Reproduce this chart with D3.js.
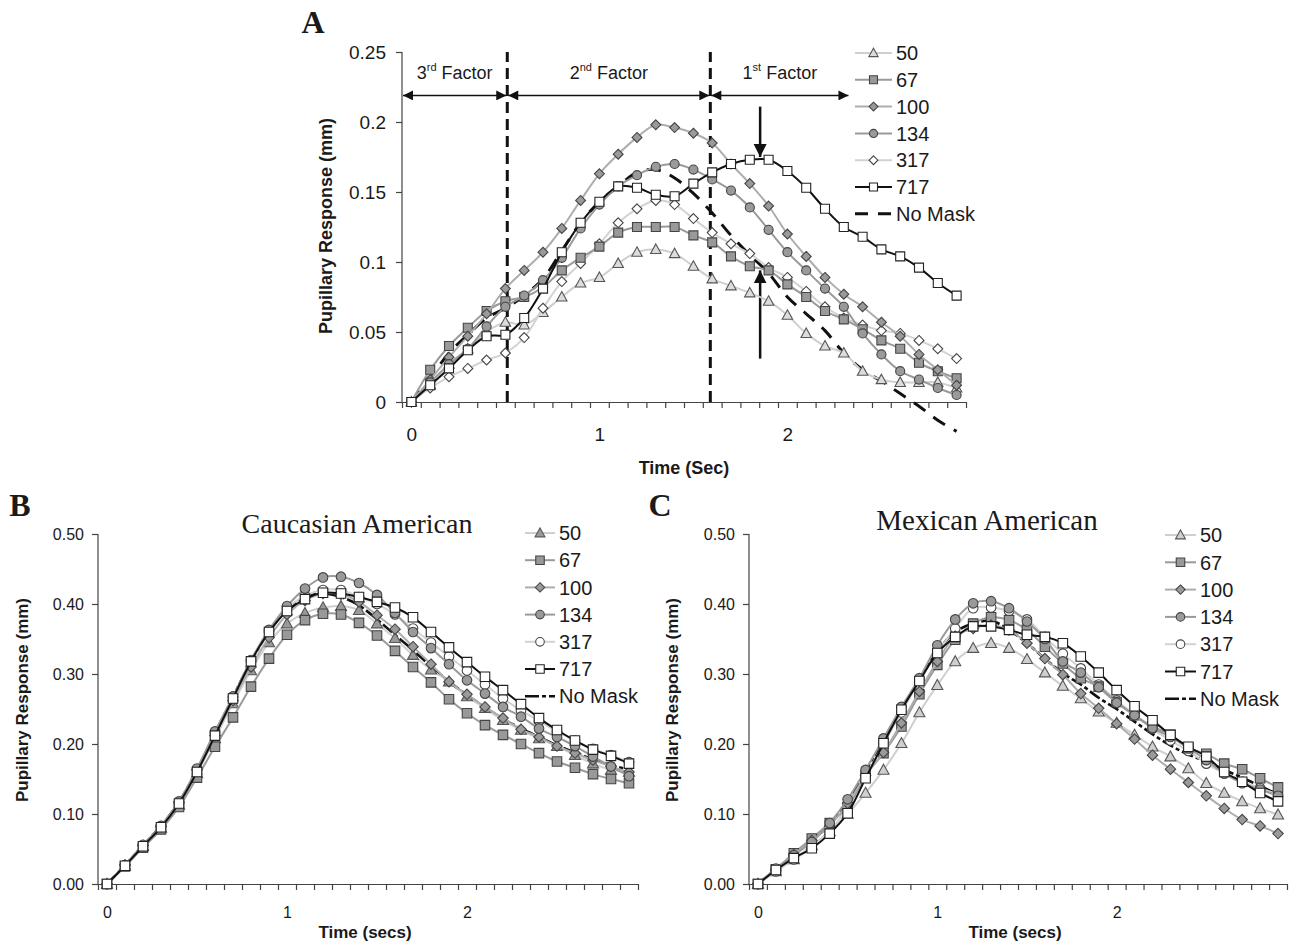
<!DOCTYPE html>
<html>
<head>
<meta charset="utf-8">
<title>Pupillary Response</title>
<script src="https://cdn.jsdelivr.net/npm/d3@7"></script>
<style>
  body { margin: 0; background: #fff; }
  text { font-family: "Liberation Sans", Arial, sans-serif; fill: #1a1a1a; }
  .serif { font-family: "Liberation Serif", "Times New Roman", serif; }
  .domain, .tick line { stroke: #444; stroke-width: 1.2; }
</style>
</head>
<body>
<div id="chart"></div>
<script>

// time points (sec), one every 0.1 s
var times = [0, 0.1, 0.2, 0.3, 0.4, 0.5, 0.6, 0.7, 0.8, 0.9, 1.0, 1.1, 1.2, 1.3, 1.4,
             1.5, 1.6, 1.7, 1.8, 1.9, 2.0, 2.1, 2.2, 2.3, 2.4, 2.5, 2.6, 2.7, 2.8, 2.9];
var seriesNames = ["50", "67", "100", "134", "317", "717", "No Mask"];
var timeLabels = [0, 1, 2];

// panel A
var a50  = [0, 0.012, 0.027, 0.038, 0.05, 0.057, 0.055, 0.064, 0.075, 0.085, 0.089, 0.099, 0.107, 0.109, 0.106, 0.097, 0.088, 0.083, 0.078, 0.072, 0.062, 0.049, 0.04, 0.035, 0.022, 0.016, 0.014, 0.014, 0.014, 0.01];
var a67  = [0, 0.023, 0.04, 0.053, 0.065, 0.072, 0.075, 0.082, 0.094, 0.103, 0.111, 0.121, 0.125, 0.125, 0.125, 0.119, 0.114, 0.104, 0.097, 0.094, 0.084, 0.075, 0.065, 0.059, 0.052, 0.044, 0.038, 0.028, 0.022, 0.017];
var a100 = [0, 0.016, 0.032, 0.047, 0.063, 0.081, 0.094, 0.107, 0.124, 0.144, 0.163, 0.177, 0.189, 0.198, 0.196, 0.192, 0.185, 0.170, 0.156, 0.140, 0.120, 0.104, 0.089, 0.077, 0.068, 0.057, 0.047, 0.034, 0.023, 0.012];
var a134 = [0, 0.014, 0.027, 0.038, 0.054, 0.068, 0.076, 0.087, 0.103, 0.124, 0.141, 0.154, 0.162, 0.168, 0.170, 0.166, 0.159, 0.151, 0.139, 0.123, 0.107, 0.094, 0.081, 0.068, 0.049, 0.034, 0.022, 0.016, 0.010, 0.005];
var a317 = [0, 0.010, 0.018, 0.024, 0.030, 0.035, 0.046, 0.067, 0.086, 0.099, 0.113, 0.128, 0.138, 0.144, 0.141, 0.131, 0.121, 0.113, 0.106, 0.096, 0.089, 0.079, 0.068, 0.060, 0.055, 0.051, 0.049, 0.044, 0.038, 0.031];
var a717 = [0, 0.012, 0.024, 0.037, 0.047, 0.048, 0.060, 0.081, 0.107, 0.128, 0.143, 0.154, 0.153, 0.148, 0.147, 0.156, 0.164, 0.170, 0.173, 0.173, 0.165, 0.153, 0.138, 0.125, 0.118, 0.109, 0.104, 0.096, 0.085, 0.076];
var aNoMask = [0, 0.017, 0.035, 0.048, 0.060, 0.067, 0.076, 0.088, 0.108, 0.128, 0.143, 0.154, 0.164, 0.166, 0.160, 0.149, 0.135, 0.119, 0.105, 0.092, 0.075, 0.063, 0.051, 0.035, 0.023, 0.015, 0.006, -0.003, -0.013, -0.021];

// panel B - Caucasian American
var b50  = [0, 0.026, 0.054, 0.08, 0.113, 0.158, 0.208, 0.258, 0.305, 0.345, 0.372, 0.387, 0.395, 0.397, 0.391, 0.372, 0.351, 0.327, 0.306, 0.289, 0.268, 0.251, 0.234, 0.22, 0.208, 0.197, 0.184, 0.172, 0.163, 0.16];
var b67  = [0, 0.025, 0.052, 0.078, 0.11, 0.152, 0.196, 0.238, 0.282, 0.322, 0.356, 0.377, 0.386, 0.385, 0.373, 0.355, 0.333, 0.310, 0.288, 0.264, 0.244, 0.227, 0.213, 0.2, 0.187, 0.175, 0.166, 0.157, 0.15, 0.144];
var b100 = [0, 0.027, 0.055, 0.082, 0.116, 0.163, 0.212, 0.262, 0.31, 0.352, 0.385, 0.405, 0.415, 0.414, 0.403, 0.384, 0.364, 0.339, 0.314, 0.289, 0.271, 0.253, 0.237, 0.221, 0.21, 0.197, 0.187, 0.177, 0.168, 0.16];
var b134 = [0, 0.027, 0.056, 0.083, 0.118, 0.165, 0.218, 0.268, 0.32, 0.363, 0.397, 0.422, 0.438, 0.439, 0.430, 0.413, 0.387, 0.360, 0.337, 0.314, 0.291, 0.272, 0.253, 0.239, 0.222, 0.21, 0.197, 0.182, 0.168, 0.154];
var b317 = [0, 0.027, 0.055, 0.082, 0.117, 0.163, 0.215, 0.266, 0.318, 0.36, 0.393, 0.412, 0.42, 0.42, 0.41, 0.40, 0.385, 0.365, 0.345, 0.325, 0.305, 0.285, 0.265, 0.248, 0.233, 0.218, 0.205, 0.193, 0.184, 0.174];
var b717 = [0, 0.026, 0.054, 0.081, 0.115, 0.16, 0.212, 0.265, 0.318, 0.36, 0.39, 0.407, 0.416, 0.415, 0.410, 0.403, 0.395, 0.381, 0.360, 0.338, 0.317, 0.296, 0.277, 0.257, 0.237, 0.22, 0.205, 0.192, 0.183, 0.172];
var bNoMask = [0, 0.027, 0.055, 0.083, 0.117, 0.163, 0.214, 0.267, 0.318, 0.36, 0.392, 0.41, 0.415, 0.41, 0.398, 0.378, 0.356, 0.334, 0.311, 0.289, 0.27, 0.252, 0.236, 0.222, 0.21, 0.198, 0.188, 0.178, 0.17, 0.163];

// panel C - Mexican American
var c50  = [0, 0.018, 0.035, 0.055, 0.075, 0.1, 0.13, 0.163, 0.201, 0.245, 0.284, 0.318, 0.337, 0.344, 0.337, 0.321, 0.302, 0.283, 0.265, 0.246, 0.23, 0.213, 0.196, 0.182, 0.165, 0.144, 0.13, 0.118, 0.108, 0.099];
var c67  = [0, 0.021, 0.044, 0.065, 0.087, 0.11, 0.155, 0.187, 0.225, 0.271, 0.313, 0.349, 0.372, 0.381, 0.377, 0.363, 0.339, 0.315, 0.294, 0.282, 0.26, 0.241, 0.225, 0.213, 0.194, 0.186, 0.172, 0.164, 0.151, 0.138];
var c100 = [0, 0.02, 0.042, 0.062, 0.083, 0.115, 0.155, 0.188, 0.23, 0.275, 0.318, 0.354, 0.365, 0.37, 0.363, 0.344, 0.322, 0.299, 0.272, 0.251, 0.229, 0.207, 0.184, 0.164, 0.145, 0.126, 0.108, 0.092, 0.083, 0.072];
var c134 = [0, 0.022, 0.041, 0.06, 0.087, 0.121, 0.163, 0.208, 0.253, 0.294, 0.341, 0.378, 0.401, 0.404, 0.394, 0.375, 0.35, 0.318, 0.302, 0.281, 0.259, 0.241, 0.223, 0.21, 0.194, 0.177, 0.158, 0.144, 0.135, 0.126];
var c317 = [0, 0.018, 0.035, 0.052, 0.075, 0.11, 0.155, 0.2, 0.245, 0.29, 0.33, 0.365, 0.394, 0.395, 0.39, 0.378, 0.353, 0.329, 0.308, 0.285, 0.262, 0.242, 0.222, 0.205, 0.19, 0.172, 0.158, 0.146, 0.137, 0.128];
var c717 = [0, 0.02, 0.037, 0.051, 0.072, 0.101, 0.151, 0.201, 0.249, 0.29, 0.33, 0.353, 0.368, 0.368, 0.363, 0.356, 0.353, 0.344, 0.325, 0.302, 0.277, 0.254, 0.234, 0.213, 0.196, 0.182, 0.16, 0.146, 0.13, 0.118];
var cNoMask = [0, 0.021, 0.042, 0.062, 0.085, 0.118, 0.16, 0.205, 0.25, 0.292, 0.332, 0.36, 0.372, 0.376, 0.363, 0.344, 0.322, 0.301, 0.285, 0.266, 0.25, 0.232, 0.214, 0.198, 0.185, 0.175, 0.163, 0.152, 0.14, 0.128];

// panel A annotations
var factorBounds = [-0.05, 0.51, 1.59, 2.33];
var factorLabels = [["3", "rd"], ["2", "nd"], ["1", "st"]];

var svg = d3.select("#chart").append("svg")
    .attr("width", 1292).attr("height", 944);

var defs = svg.append("defs");
defs.append("marker").attr("id", "head")
    .attr("viewBox", "0 0 10 10").attr("refX", 10).attr("refY", 5)
    .attr("markerWidth", 11).attr("markerHeight", 10)
    .attr("markerUnits", "userSpaceOnUse")
    .attr("orient", "auto-start-reverse")
  .append("path").attr("d", "M0,0 L10,5 L0,10 z").attr("fill", "#111");
defs.append("marker").attr("id", "bighead")
    .attr("viewBox", "0 0 10 10").attr("refX", 10).attr("refY", 5)
    .attr("markerWidth", 13).attr("markerHeight", 14)
    .attr("markerUnits", "userSpaceOnUse")
    .attr("orient", "auto")
  .append("path").attr("d", "M0,0 L10,5 L0,10 z").attr("fill", "#111");

function markerPath(shape, s) {
  if (shape == "triangle") return "M0," + (-s * 0.6) + "L" + (s * 0.58) + "," + (s * 0.45) + "L" + (-s * 0.58) + "," + (s * 0.45) + "Z";
  if (shape == "square") return "M" + (-s / 2) + "," + (-s / 2) + "h" + s + "v" + s + "h" + (-s) + "Z";
  if (shape == "diamond") return "M0," + (-s * 0.55) + "L" + (s * 0.55) + ",0L0," + (s * 0.55) + "L" + (-s * 0.55) + ",0Z";
  if (shape == "circle") return d3.symbol(d3.symbolCircle, s * s * 0.8)();
  return "";
}

function drawPanel(p) {
  var g = svg.append("g");
  var x = d3.scaleLinear().domain([-0.05, 2.95]).range([p.left, p.right]);
  var y = d3.scaleLinear().domain(p.yDomain).range([p.bottom, p.top]);

  // y axis
  g.append("g")
    .attr("transform", "translate(" + p.left + ",0)")
    .call(d3.axisLeft(y).tickValues(p.yTicks).tickSize(6).tickPadding(p.yPad).tickFormat(p.yFormat))
    .call(function(a) {
      a.select(".domain").attr("d", "M0," + p.top + "V" + p.bottom);
      a.selectAll("text").style("font-size", p.tickFont + "px");
    });

  // x axis: minor ticks between categories, labels at whole seconds
  var bounds = times.map(function(t) { return t - 0.05; }).concat([2.95]);
  g.append("g")
    .attr("transform", "translate(0," + p.bottom + ")")
    .call(d3.axisBottom(x).tickValues(bounds).tickSize(6).tickSizeOuter(0).tickFormat(""));
  g.append("g")
    .attr("transform", "translate(0," + p.bottom + ")")
    .call(d3.axisBottom(x).tickValues(timeLabels).tickSize(0).tickPadding(p.xPad).tickFormat(d3.format("d")))
    .call(function(a) {
      a.select(".domain").remove();
      a.selectAll("text").style("font-size", p.tickFont + "px");
    });

  // axis titles
  g.append("text")
    .attr("transform", "translate(" + p.yTitleX + "," + p.yTitleY + ") rotate(-90)")
    .attr("text-anchor", "middle").style("font-weight", "bold").style("font-size", p.titleFont + "px")
    .text("Pupillary Response (mm)");
  g.append("text")
    .attr("x", p.xTitleX).attr("y", p.xTitleY)
    .attr("text-anchor", "middle").style("font-weight", "bold").style("font-size", p.titleFont + "px")
    .text(p.xTitle);

  // panel letter and title
  g.append("text").attr("class", "serif")
    .attr("x", p.letterX).attr("y", p.letterY).attr("text-anchor", "middle")
    .style("font-weight", "bold").style("font-size", "32px")
    .text(p.letter);
  if (p.title) {
    g.append("text").attr("class", "serif")
      .attr("x", p.titleX).attr("y", p.titleY).attr("text-anchor", "middle")
      .style("font-size", p.titleSize + "px")
      .text(p.title);
  }

  if (p.extra) p.extra(g, x, y);

  var line = d3.line()
    .x(function(d, i) { return x(times[i]); })
    .y(function(d) { return y(d); })
    .curve(d3.curveCatmullRom.alpha(0.5));

  p.series.forEach(function(s) {
    g.append("path")
      .datum(s.values)
      .attr("d", line)
      .attr("fill", "none")
      .attr("stroke", s.stroke)
      .attr("stroke-width", s.width)
      .attr("stroke-dasharray", s.dash || null);
    if (s.shape) {
      g.append("g").selectAll("path")
        .data(s.values)
        .join("path")
        .attr("transform", function(d, i) { return "translate(" + x(times[i]) + "," + y(d) + ")"; })
        .attr("d", markerPath(s.shape, p.markerSize))
        .attr("fill", s.fill)
        .attr("stroke", s.edge)
        .attr("stroke-width", 1.1);
    }
  });

  // legend
  var leg = g.append("g").attr("transform", "translate(" + p.legX + "," + p.legY + ")");
  p.series.slice().sort(function(a, b) { return a.order - b.order; }).forEach(function(s, i) {
    var row = leg.append("g").attr("transform", "translate(0," + (i * p.legStep) + ")");
    row.append("line")
      .attr("x1", 0).attr("x2", p.legLine).attr("y1", 0).attr("y2", 0)
      .attr("stroke", s.stroke).attr("stroke-width", s.width)
      .attr("stroke-dasharray", s.legDash || null);
    if (s.shape) {
      row.append("path")
        .attr("transform", "translate(" + (p.legLine / 2) + ",0)")
        .attr("d", markerPath(s.shape, p.markerSize - 1))
        .attr("fill", s.fill).attr("stroke", s.edge).attr("stroke-width", 1.1);
    }
    row.append("text")
      .attr("x", p.legLine + 4).attr("y", 0).attr("dy", "0.36em")
      .style("font-size", p.legFont + "px")
      .text(s.name);
  });
}

// styles shared by all panels
function styleSet(vals, triFill, bc) {
  return [
    {name: seriesNames[6], values: vals[6], stroke: "#111", width: bc ? 2.6 : 3, dash: bc ? "12,3,4,3" : "14,10", legDash: bc ? "14,3,4,3" : "13,10", order: 6},
    {name: seriesNames[0], values: vals[0], stroke: "#cfcfcf", width: 2, shape: "triangle", fill: triFill, edge: "#555", order: 0},
    {name: seriesNames[4], values: vals[4], stroke: "#d2d2d2", width: 2, shape: bc ? "circle" : "diamond", fill: "#fff", edge: "#444", order: 4},
    {name: seriesNames[1], values: vals[1], stroke: "#9a9a9a", width: 2, shape: "square", fill: "#999", edge: "#444", order: 1},
    {name: seriesNames[2], values: vals[2], stroke: "#adadad", width: 2, shape: "diamond", fill: "#9a9a9a", edge: "#444", order: 2},
    {name: seriesNames[3], values: vals[3], stroke: "#9a9a9a", width: 2, shape: "circle", fill: "#9a9a9a", edge: "#444", order: 3},
    {name: seriesNames[5], values: vals[5], stroke: "#111", width: 2, shape: "square", fill: "#fff", edge: "#222", order: 5}
  ];
}

drawPanel({
  left: 402, right: 966, top: 52, bottom: 402,
  yDomain: [0, 0.25], yTicks: [0, 0.05, 0.1, 0.15, 0.2, 0.25],
  yFormat: function(d) { return String(+d.toFixed(2)); },
  tickFont: 19, xPad: 26, yPad: 10, titleFont: 18, markerSize: 9,
  yTitleX: 332, yTitleY: 226, xTitleX: 684, xTitleY: 474, xTitle: "Time (Sec)",
  letter: "A", letterX: 313, letterY: 33,
  legX: 855, legY: 53, legStep: 26.8, legLine: 37, legFont: 20,
  series: styleSet([a50, a67, a100, a134, a317, a717, aNoMask], "#dcdcdc", false),
  extra: function(g, x, y) {
    // factor boundaries
    factorBounds.slice(1, 3).forEach(function(b) {
      g.append("line")
        .attr("x1", x(b)).attr("x2", x(b)).attr("y1", y(0)).attr("y2", y(0.25))
        .attr("stroke", "#111").attr("stroke-width", 3).attr("stroke-dasharray", "11,6");
    });
    for (var i = 0; i < 3; i++) {
      g.append("line")
        .attr("x1", x(factorBounds[i]) + 1).attr("x2", x(factorBounds[i + 1]) - 1)
        .attr("y1", y(0.219)).attr("y2", y(0.219))
        .attr("stroke", "#111").attr("stroke-width", 1.5)
        .attr("marker-start", "url(#head)").attr("marker-end", "url(#head)");
      var t = g.append("text")
        .attr("x", (x(factorBounds[i]) + x(factorBounds[i + 1])) / 2)
        .attr("y", y(0.231)).attr("text-anchor", "middle")
        .style("font-size", "18px");
      t.append("tspan").text(factorLabels[i][0]);
      t.append("tspan").attr("dy", "-8").style("font-size", "11px").text(factorLabels[i][1]);
      t.append("tspan").attr("dy", "8").text(" Factor");
    }
    // arrows pointing at the 717 peak and the no-mask crossing
    g.append("line")
      .attr("x1", x(1.855)).attr("x2", x(1.855)).attr("y1", y(0.211)).attr("y2", y(0.175))
      .attr("stroke", "#111").attr("stroke-width", 2.5).attr("marker-end", "url(#bighead)");
    g.append("line")
      .attr("x1", x(1.855)).attr("x2", x(1.855)).attr("y1", y(0.031)).attr("y2", y(0.094))
      .attr("stroke", "#111").attr("stroke-width", 2.5).attr("marker-end", "url(#bighead)");
  }
});

drawPanel({
  left: 98, right: 638, top: 534, bottom: 884,
  yDomain: [0, 0.5], yTicks: [0, 0.1, 0.2, 0.3, 0.4, 0.5],
  yFormat: d3.format(".2f"),
  tickFont: 16, xPad: 23, yPad: 8, titleFont: 17, markerSize: 9.5,
  yTitleX: 28, yTitleY: 700, xTitleX: 365, xTitleY: 938, xTitle: "Time (secs)",
  letter: "B", letterX: 20, letterY: 516,
  title: "Caucasian American", titleSize: 28, titleX: 357, titleY: 533,
  legX: 525, legY: 533, legStep: 27.2, legLine: 30, legFont: 20,
  series: styleSet([b50, b67, b100, b134, b317, b717, bNoMask], "#9a9a9a", true)
});

drawPanel({
  left: 749, right: 1287, top: 534, bottom: 884,
  yDomain: [0, 0.5], yTicks: [0, 0.1, 0.2, 0.3, 0.4, 0.5],
  yFormat: d3.format(".2f"),
  tickFont: 16, xPad: 23, yPad: 8, titleFont: 17, markerSize: 9.5,
  yTitleX: 678, yTitleY: 700, xTitleX: 1015, xTitleY: 938, xTitle: "Time (secs)",
  letter: "C", letterX: 660, letterY: 516,
  title: "Mexican American", titleSize: 29, titleX: 987, titleY: 530,
  legX: 1165, legY: 535, legStep: 27.3, legLine: 31, legFont: 20,
  series: styleSet([c50, c67, c100, c134, c317, c717, cNoMask], "#cfcfcf", true)
});

</script>
</body>
</html>
